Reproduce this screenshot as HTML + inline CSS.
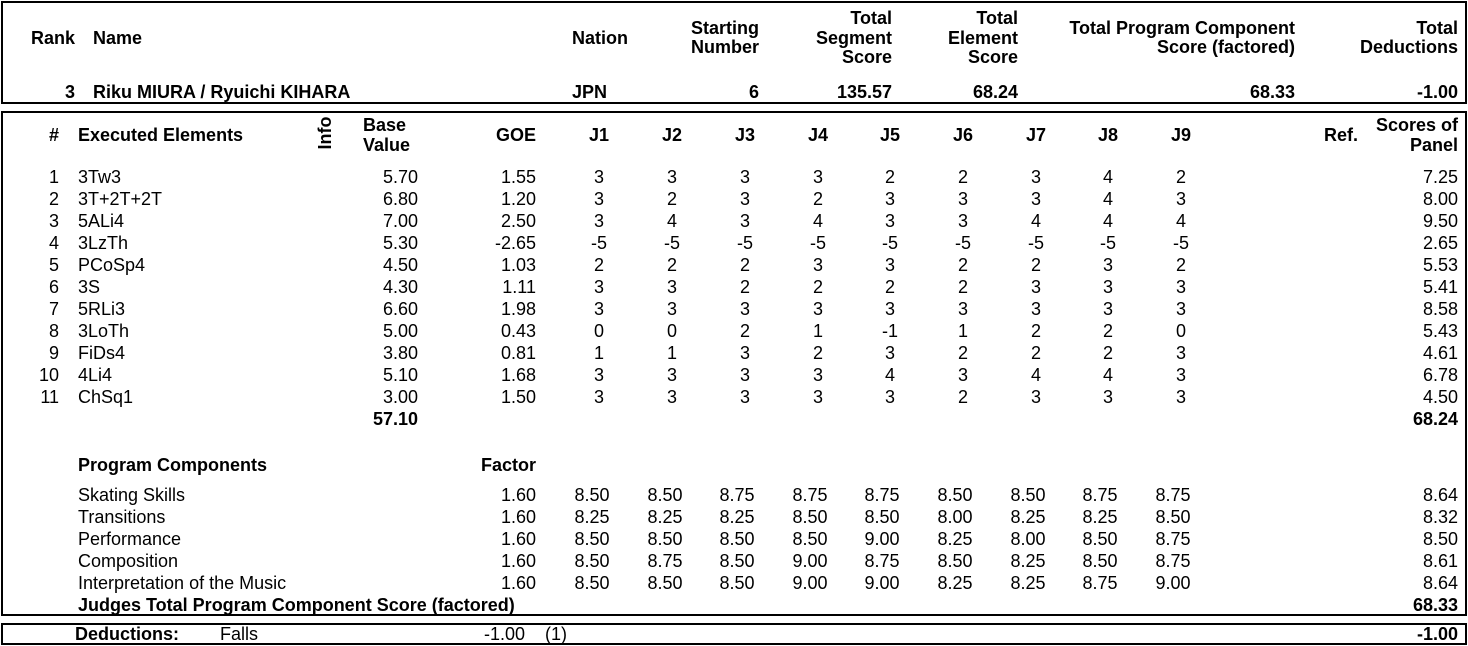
<!DOCTYPE html>
<html><head><meta charset="utf-8"><style>
body{margin:0;width:1468px;height:646px;background:#fff;position:relative;overflow:hidden;font-family:"Liberation Sans",Arial,sans-serif;font-size:18px;color:#000}
.box{position:absolute;border:2px solid #000;box-sizing:border-box}
.t{position:absolute;line-height:18px;white-space:nowrap}
.b{font-weight:bold}
.R{text-align:right}
.row{position:absolute;left:0;width:1468px;height:18px}
.row div{position:absolute;top:0;line-height:18px;white-space:nowrap}
.n{right:1409px;text-align:right}
.e{left:78px}
.bv{right:1050px}
.goe{right:932px}
.sp{right:10px}
.j1,.j2,.j3,.j4,.j5,.j6,.j7,.j8,.j9,.p1,.p2,.p3,.p4,.p5,.p6,.p7,.p8,.p9{width:80px;text-align:center}
.j1{left:559px}.j2{left:632px}.j3{left:705px}.j4{left:778px}.j5{left:850px}.j6{left:923px}.j7{left:996px}.j8{left:1068px}.j9{left:1141px}
.p1{left:552px}.p2{left:625px}.p3{left:697px}.p4{left:770px}.p5{left:842px}.p6{left:915px}.p7{left:988px}.p8{left:1060px}.p9{left:1133px}
</style></head><body>
<div class="box" style="left:1px;top:1px;width:1466px;height:103px"></div>
<div class="box" style="left:1px;top:111px;width:1466px;height:505px"></div>
<div class="box" style="left:1px;top:623px;width:1466px;height:22px"></div>

<div class="t b" style="left:31px;top:29px">Rank</div>
<div class="t b" style="left:93px;top:29px">Name</div>
<div class="t b" style="left:572px;top:29px">Nation</div>
<div class="t b R" style="right:709px;top:19px;line-height:19px">Starting<br>Number</div>
<div class="t b R" style="right:576px;top:9px;line-height:19.5px">Total<br>Segment<br>Score</div>
<div class="t b R" style="right:450px;top:9px;line-height:19.5px">Total<br>Element<br>Score</div>
<div class="t b R" style="right:173px;top:19px;line-height:19px">Total Program Component<br>Score (factored)</div>
<div class="t b R" style="right:10px;top:19px;line-height:19px">Total<br>Deductions</div>

<div class="t b R" style="right:1393px;top:83px">3</div>
<div class="t b" style="left:93px;top:83px">Riku MIURA / Ryuichi KIHARA</div>
<div class="t b" style="left:572px;top:83px">JPN</div>
<div class="t b R" style="right:709px;top:83px">6</div>
<div class="t b R" style="right:576px;top:83px">135.57</div>
<div class="t b R" style="right:450px;top:83px">68.24</div>
<div class="t b R" style="right:173px;top:83px">68.33</div>
<div class="t b R" style="right:10px;top:83px">-1.00</div>

<div class="row b" style="top:126px"><div class="n">#</div><div class="e">Executed Elements</div><div class="goe">GOE</div>
<div class="j1">J1</div><div class="j2">J2</div><div class="j3">J3</div><div class="j4">J4</div><div class="j5">J5</div><div class="j6">J6</div><div class="j7">J7</div><div class="j8">J8</div><div class="j9">J9</div><div style="right:110px">Ref.</div></div>
<div class="t b" style="left:305px;top:124px;width:40px;text-align:center;transform:rotate(-90deg)">Info</div>
<div class="t b" style="left:363px;top:115px;line-height:20px">Base<br>Value</div>
<div class="t b R" style="right:10px;top:115px;line-height:20px">Scores of<br>Panel</div>

<div class="row" style="top:168px"><div class="n">1</div><div class="e">3Tw3</div><div class="bv">5.70</div><div class="goe">1.55</div><div class="j1">3</div><div class="j2">3</div><div class="j3">3</div><div class="j4">3</div><div class="j5">2</div><div class="j6">2</div><div class="j7">3</div><div class="j8">4</div><div class="j9">2</div><div class="sp">7.25</div></div>
<div class="row" style="top:190px"><div class="n">2</div><div class="e">3T+2T+2T</div><div class="bv">6.80</div><div class="goe">1.20</div><div class="j1">3</div><div class="j2">2</div><div class="j3">3</div><div class="j4">2</div><div class="j5">3</div><div class="j6">3</div><div class="j7">3</div><div class="j8">4</div><div class="j9">3</div><div class="sp">8.00</div></div>
<div class="row" style="top:212px"><div class="n">3</div><div class="e">5ALi4</div><div class="bv">7.00</div><div class="goe">2.50</div><div class="j1">3</div><div class="j2">4</div><div class="j3">3</div><div class="j4">4</div><div class="j5">3</div><div class="j6">3</div><div class="j7">4</div><div class="j8">4</div><div class="j9">4</div><div class="sp">9.50</div></div>
<div class="row" style="top:234px"><div class="n">4</div><div class="e">3LzTh</div><div class="bv">5.30</div><div class="goe">-2.65</div><div class="j1">-5</div><div class="j2">-5</div><div class="j3">-5</div><div class="j4">-5</div><div class="j5">-5</div><div class="j6">-5</div><div class="j7">-5</div><div class="j8">-5</div><div class="j9">-5</div><div class="sp">2.65</div></div>
<div class="row" style="top:256px"><div class="n">5</div><div class="e">PCoSp4</div><div class="bv">4.50</div><div class="goe">1.03</div><div class="j1">2</div><div class="j2">2</div><div class="j3">2</div><div class="j4">3</div><div class="j5">3</div><div class="j6">2</div><div class="j7">2</div><div class="j8">3</div><div class="j9">2</div><div class="sp">5.53</div></div>
<div class="row" style="top:278px"><div class="n">6</div><div class="e">3S</div><div class="bv">4.30</div><div class="goe">1.11</div><div class="j1">3</div><div class="j2">3</div><div class="j3">2</div><div class="j4">2</div><div class="j5">2</div><div class="j6">2</div><div class="j7">3</div><div class="j8">3</div><div class="j9">3</div><div class="sp">5.41</div></div>
<div class="row" style="top:300px"><div class="n">7</div><div class="e">5RLi3</div><div class="bv">6.60</div><div class="goe">1.98</div><div class="j1">3</div><div class="j2">3</div><div class="j3">3</div><div class="j4">3</div><div class="j5">3</div><div class="j6">3</div><div class="j7">3</div><div class="j8">3</div><div class="j9">3</div><div class="sp">8.58</div></div>
<div class="row" style="top:322px"><div class="n">8</div><div class="e">3LoTh</div><div class="bv">5.00</div><div class="goe">0.43</div><div class="j1">0</div><div class="j2">0</div><div class="j3">2</div><div class="j4">1</div><div class="j5">-1</div><div class="j6">1</div><div class="j7">2</div><div class="j8">2</div><div class="j9">0</div><div class="sp">5.43</div></div>
<div class="row" style="top:344px"><div class="n">9</div><div class="e">FiDs4</div><div class="bv">3.80</div><div class="goe">0.81</div><div class="j1">1</div><div class="j2">1</div><div class="j3">3</div><div class="j4">2</div><div class="j5">3</div><div class="j6">2</div><div class="j7">2</div><div class="j8">2</div><div class="j9">3</div><div class="sp">4.61</div></div>
<div class="row" style="top:366px"><div class="n">10</div><div class="e">4Li4</div><div class="bv">5.10</div><div class="goe">1.68</div><div class="j1">3</div><div class="j2">3</div><div class="j3">3</div><div class="j4">3</div><div class="j5">4</div><div class="j6">3</div><div class="j7">4</div><div class="j8">4</div><div class="j9">3</div><div class="sp">6.78</div></div>
<div class="row" style="top:388px"><div class="n">11</div><div class="e">ChSq1</div><div class="bv">3.00</div><div class="goe">1.50</div><div class="j1">3</div><div class="j2">3</div><div class="j3">3</div><div class="j4">3</div><div class="j5">3</div><div class="j6">2</div><div class="j7">3</div><div class="j8">3</div><div class="j9">3</div><div class="sp">4.50</div></div>
<div class="row b" style="top:410px"><div class="bv">57.10</div><div class="sp">68.24</div></div>

<div class="row b" style="top:456px"><div class="e">Program Components</div><div class="goe">Factor</div></div>
<div class="row" style="top:486px"><div class="e">Skating Skills</div><div class="goe">1.60</div><div class="p1">8.50</div><div class="p2">8.50</div><div class="p3">8.75</div><div class="p4">8.75</div><div class="p5">8.75</div><div class="p6">8.50</div><div class="p7">8.50</div><div class="p8">8.75</div><div class="p9">8.75</div><div class="sp">8.64</div></div>
<div class="row" style="top:508px"><div class="e">Transitions</div><div class="goe">1.60</div><div class="p1">8.25</div><div class="p2">8.25</div><div class="p3">8.25</div><div class="p4">8.50</div><div class="p5">8.50</div><div class="p6">8.00</div><div class="p7">8.25</div><div class="p8">8.25</div><div class="p9">8.50</div><div class="sp">8.32</div></div>
<div class="row" style="top:530px"><div class="e">Performance</div><div class="goe">1.60</div><div class="p1">8.50</div><div class="p2">8.50</div><div class="p3">8.50</div><div class="p4">8.50</div><div class="p5">9.00</div><div class="p6">8.25</div><div class="p7">8.00</div><div class="p8">8.50</div><div class="p9">8.75</div><div class="sp">8.50</div></div>
<div class="row" style="top:552px"><div class="e">Composition</div><div class="goe">1.60</div><div class="p1">8.50</div><div class="p2">8.75</div><div class="p3">8.50</div><div class="p4">9.00</div><div class="p5">8.75</div><div class="p6">8.50</div><div class="p7">8.25</div><div class="p8">8.50</div><div class="p9">8.75</div><div class="sp">8.61</div></div>
<div class="row" style="top:574px"><div class="e">Interpretation of the Music</div><div class="goe">1.60</div><div class="p1">8.50</div><div class="p2">8.50</div><div class="p3">8.50</div><div class="p4">9.00</div><div class="p5">9.00</div><div class="p6">8.25</div><div class="p7">8.25</div><div class="p8">8.75</div><div class="p9">9.00</div><div class="sp">8.64</div></div>
<div class="row b" style="top:596px"><div class="e">Judges Total Program Component Score (factored)</div><div class="sp">68.33</div></div>

<div class="row" style="top:625px"><div class="b" style="left:75px">Deductions:</div><div style="left:220px">Falls</div><div style="right:943px">-1.00</div><div style="left:545px">(1)</div><div class="sp b">-1.00</div></div>
</body></html>
